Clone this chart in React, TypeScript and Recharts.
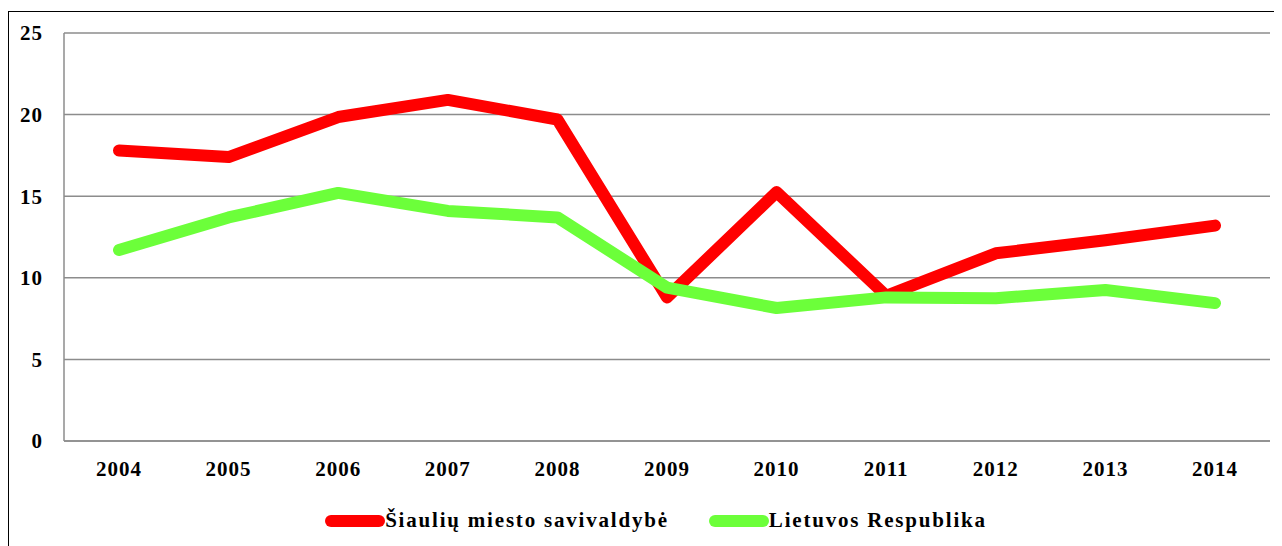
import { LineChart, Line, XAxis, YAxis, CartesianGrid } from "recharts";

const years = ["2004", "2005", "2006", "2007", "2008", "2009", "2010", "2011", "2012", "2013", "2014"];
const siauliai = [17.8, 17.4, 19.85, 20.9, 19.7, 8.8, 15.25, 8.9, 11.5, 12.3, 13.2];
const lietuva = [11.7, 13.7, 15.2, 14.1, 13.7, 9.4, 8.15, 8.8, 8.75, 9.25, 8.45];
const yTicks = [0, 5, 10, 15, 20, 25];

const RED = "#ff0000";
const GREEN = "#6cff3a";
const legendItems = [
  { name: "Šiaulių miesto savivaldybė", color: RED },
  { name: "Lietuvos Respublika", color: GREEN },
];

const data = years.map((year, i) => ({ year, siauliai: siauliai[i], lietuva: lietuva[i] }));

const fontFamily = '"Liberation Serif", "Times New Roman", serif';

export default function App() {
  return (
    <div style={{ position: "relative", marginTop: 3, width: 1272, height: 545, border: "1px solid #000", background: "#fff" }}>
      <LineChart width={1272} height={545} data={data} margin={{ top: 21, right: 11, left: 10, bottom: 86 }}>
        <CartesianGrid vertical={false} stroke="#8c8c8c" strokeWidth={1.5} />
        <XAxis
          dataKey="year"
          height={30}
          padding={{ left: 55, right: 55 }}
          axisLine={{ stroke: "#8c8c8c", strokeWidth: 1.5 }}
          tickLine={false}
          tickSize={0}
          tickMargin={20}
          tick={{ fontSize: 21, fontWeight: "bold", fill: "#000", fontFamily, letterSpacing: 1 }}
        />
        <YAxis
          width={45}
          domain={[0, 25]}
          ticks={yTicks}
          axisLine={{ stroke: "#8c8c8c", strokeWidth: 1.5 }}
          tickLine={false}
          tickSize={0}
          tickMargin={21}
          tick={{ fontSize: 21, fontWeight: "bold", fill: "#000", fontFamily, letterSpacing: 1 }}
        />
        <Line type="linear" dataKey="siauliai" name={legendItems[0].name} stroke={RED} strokeWidth={12} strokeLinejoin="round" strokeLinecap="round" dot={false} activeDot={false} isAnimationActive={false} />
        <Line type="linear" dataKey="lietuva" name={legendItems[1].name} stroke={GREEN} strokeWidth={12} strokeLinejoin="round" strokeLinecap="round" dot={false} activeDot={false} isAnimationActive={false} />
      </LineChart>
      <div style={{ position: "absolute", top: 496, left: 11, width: 1272, display: "flex", justifyContent: "center", alignItems: "center", fontFamily, fontWeight: "bold", fontSize: 21, letterSpacing: 1.8 }}>
        {legendItems.map((item, index) => (
          <div key={index} style={{ display: "flex", alignItems: "center", marginRight: index === 0 ? 40 : 0 }}>
            <div style={{ width: 60, height: 12, borderRadius: 6, backgroundColor: item.color }}></div>
            <span style={{ color: "#000" }}>{item.name}</span>
          </div>
        ))}
      </div>
    </div>
  );
}
